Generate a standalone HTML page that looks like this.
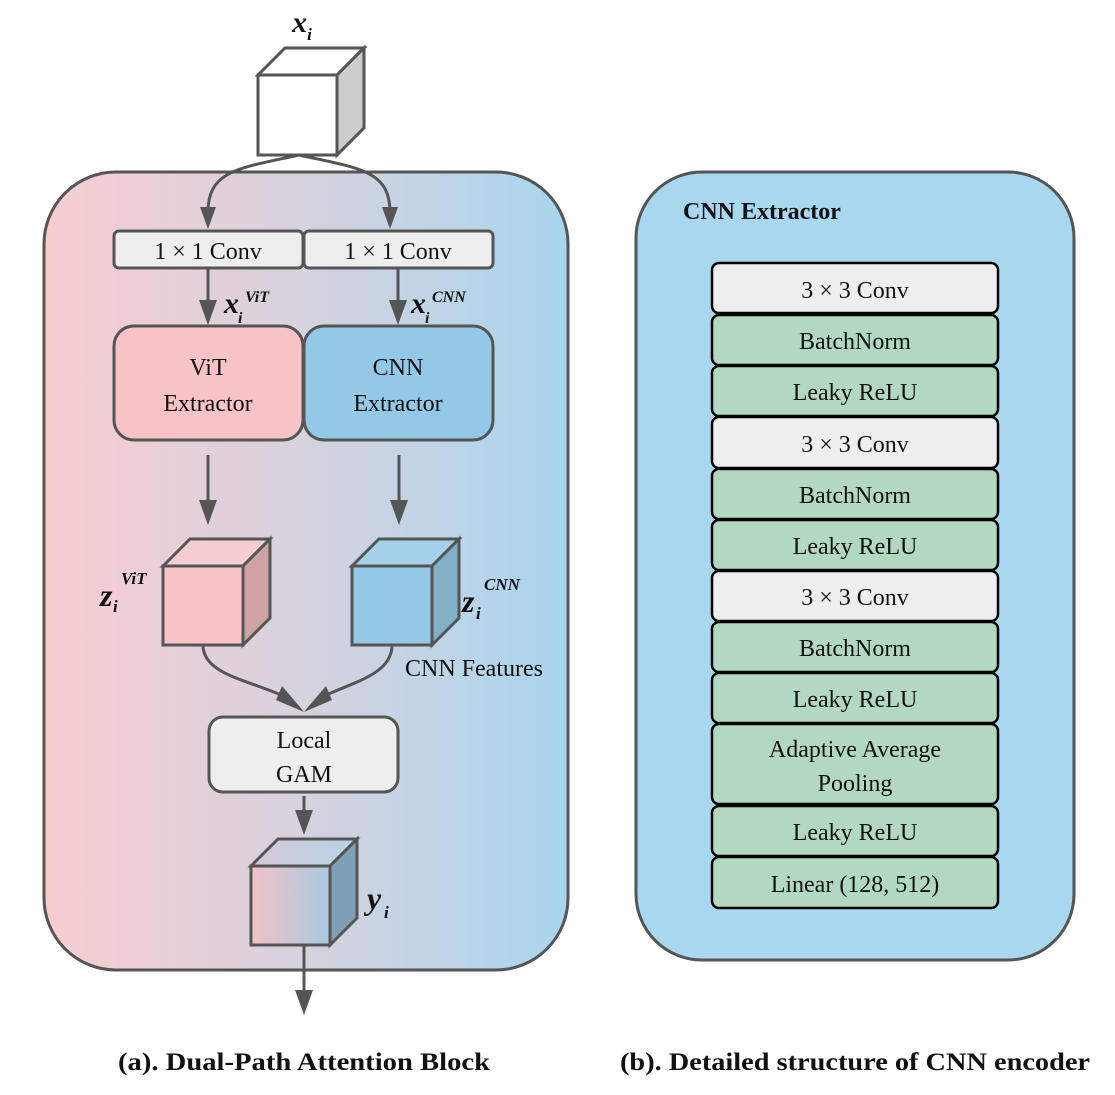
<!DOCTYPE html>
<html><head><meta charset="utf-8"><style>
html,body{margin:0;padding:0;background:#fff;}
svg text{font-family:"Liberation Serif","Times New Roman","DejaVu Serif",serif;}
</style></head><body>
<svg width="1115" height="1090" viewBox="0 0 1115 1090" xmlns="http://www.w3.org/2000/svg">
<defs>
<linearGradient id="bg" x1="0" x2="1" y1="0" y2="0"><stop offset="0" stop-color="#f8cdd0"/><stop offset="0.5" stop-color="#d6d2de"/><stop offset="1" stop-color="#a8d5ee"/></linearGradient>
<linearGradient id="yf" x1="0" x2="1"><stop offset="0" stop-color="#f2c2c8"/><stop offset="1" stop-color="#a9c9e0"/></linearGradient>
<linearGradient id="yt" x1="0" x2="1"><stop offset="0" stop-color="#d8c8d6"/><stop offset="1" stop-color="#b4d6ea"/></linearGradient>
</defs>
<style>
.s{stroke:#555;stroke-width:3;}
.t{font-size:24px;fill:#111;text-anchor:middle;}
.m{font-style:italic;font-weight:bold;fill:#111;}
.l{stroke:#000;stroke-width:2.5;}
</style>
<rect x="44" y="172" width="524" height="798" rx="72" fill="url(#bg)" class="s"/>
<rect x="258" y="75" width="79" height="80" fill="#fff" class="s"/>
<path d="M258,75 L285,48 L364,48 L337,75 Z" fill="#fff" class="s"/>
<path d="M337,75 L364,48 L364,128 L337,155 Z" fill="#ccc" class="s"/>
<text x="302" y="32" class="m" font-size="30" text-anchor="middle">x<tspan font-size="17" dy="8">i</tspan></text>
<g fill="none" stroke="#555" stroke-width="3">
<path d="M299,155 C240,168 208,170 208,212"/>
<path d="M299,155 C358,168 390,170 390,212"/>
</g>
<path d="M200,207 L216,207 L208,229 Z" fill="#555"/>
<path d="M382,207 L398,207 L390,229 Z" fill="#555"/>
<rect x="114" y="231" width="189" height="37" rx="5" fill="#eee" class="s"/>
<rect x="304" y="231" width="189" height="37" rx="5" fill="#eee" class="s"/>
<text x="208" y="259" class="t">1 × 1 Conv</text>
<text x="398" y="259" class="t">1 × 1 Conv</text>
<line x1="208" y1="268" x2="208" y2="305" class="s"/>
<path d="M199,300 L217,300 L208,325 Z" fill="#555"/>
<line x1="398" y1="268" x2="398" y2="305" class="s"/>
<path d="M389,300 L407,300 L398,325 Z" fill="#555"/>
<text x="224" y="313" class="m" font-size="30">x</text><text x="238" y="323" class="m" font-size="16">i</text><text x="245" y="302" class="m" font-size="16">ViT</text>
<text x="411" y="313" class="m" font-size="30">x</text><text x="425" y="323" class="m" font-size="16">i</text><text x="432" y="302" class="m" font-size="16">CNN</text>
<rect x="114" y="326" width="189" height="114" rx="20" fill="#f8c3c6" class="s"/>
<rect x="304" y="326" width="189" height="114" rx="20" fill="#93c8e6" class="s"/>
<text x="208" y="375" class="t">ViT</text><text x="208" y="411" class="t">Extractor</text>
<text x="398" y="375" class="t">CNN</text><text x="398" y="411" class="t">Extractor</text>
<line x1="208" y1="455" x2="208" y2="505" class="s"/>
<path d="M199,500 L217,500 L208,525 Z" fill="#555"/>
<line x1="399" y1="455" x2="399" y2="505" class="s"/>
<path d="M390,500 L408,500 L399,525 Z" fill="#555"/>
<rect x="163" y="566" width="80" height="79" fill="#f8c3c6" class="s"/>
<path d="M163,566 L190,539 L270,539 L243,566 Z" fill="#f6cdd0" class="s"/>
<path d="M243,566 L270,539 L270,618 L243,645 Z" fill="#cfa3a6" class="s"/>
<rect x="352" y="566" width="80" height="79" fill="#93c8e6" class="s"/>
<path d="M352,566 L379,539 L459,539 L432,566 Z" fill="#a5d2ea" class="s"/>
<path d="M432,566 L459,539 L459,618 L432,645 Z" fill="#82b0c8" class="s"/>
<text x="100" y="606" class="m" font-size="32">z</text><text x="113" y="612" class="m" font-size="17">i</text><text x="121" y="584" class="m" font-size="17">ViT</text>
<text x="462" y="612" class="m" font-size="32">z</text><text x="476" y="619" class="m" font-size="17">i</text><text x="484" y="590" class="m" font-size="17">CNN</text>
<text x="474" y="676" class="t">CNN Features</text>
<g fill="none" stroke="#555" stroke-width="3">
<path d="M203,645 C203,675 250,680 288,698"/>
<path d="M392,645 C392,675 352,682 320,698"/>
</g>
<path d="M282,686 L300,707 L304,712 L276,700 Z" fill="#555"/>
<path d="M326,686 L308,707 L304,712 L332,700 Z" fill="#555"/>
<rect x="209" y="717" width="189" height="75" rx="14" fill="#eee" class="s"/>
<text x="304" y="748" class="t">Local</text><text x="304" y="782" class="t">GAM</text>
<line x1="304" y1="796" x2="304" y2="815" class="s"/>
<path d="M295,810 L313,810 L304,835 Z" fill="#555"/>
<rect x="251" y="866" width="79" height="79" fill="url(#yf)" class="s"/>
<path d="M251,866 L278,839 L357,839 L330,866 Z" fill="url(#yt)" class="s"/>
<path d="M330,866 L357,839 L357,918 L330,945 Z" fill="#7fa0b4" class="s"/>
<text x="367" y="909" class="m" font-size="32">y</text><text x="384" y="918" class="m" font-size="17">i</text>
<line x1="304" y1="945" x2="304" y2="995" class="s"/>
<path d="M295,990 L313,990 L304,1015 Z" fill="#555"/>
<rect x="636" y="172" width="438" height="788" rx="66" fill="#a8d7ef" class="s"/>
<text x="683" y="219" font-size="24" font-weight="bold" fill="#111">CNN Extractor</text>
<g>
<rect x="712" y="263" width="286" height="50" rx="7" fill="#eee" class="l"/><text x="855" y="298" class="t">3 × 3 Conv</text>
<rect x="712" y="315" width="286" height="50" rx="7" fill="#b2d8c2" class="l"/><text x="855" y="349" class="t">BatchNorm</text>
<rect x="712" y="366" width="286" height="50" rx="7" fill="#b2d8c2" class="l"/><text x="855" y="400" class="t">Leaky ReLU</text>
<rect x="712" y="417" width="286" height="51" rx="7" fill="#eee" class="l"/><text x="855" y="452" class="t">3 × 3 Conv</text>
<rect x="712" y="469" width="286" height="50" rx="7" fill="#b2d8c2" class="l"/><text x="855" y="503" class="t">BatchNorm</text>
<rect x="712" y="520" width="286" height="50" rx="7" fill="#b2d8c2" class="l"/><text x="855" y="554" class="t">Leaky ReLU</text>
<rect x="712" y="571" width="286" height="50" rx="7" fill="#eee" class="l"/><text x="855" y="605" class="t">3 × 3 Conv</text>
<rect x="712" y="622" width="286" height="50" rx="7" fill="#b2d8c2" class="l"/><text x="855" y="656" class="t">BatchNorm</text>
<rect x="712" y="673" width="286" height="50" rx="7" fill="#b2d8c2" class="l"/><text x="855" y="707" class="t">Leaky ReLU</text>
<rect x="712" y="724" width="286" height="80" rx="7" fill="#b2d8c2" class="l"/><text x="855" y="757" class="t">Adaptive Average</text><text x="855" y="791" class="t">Pooling</text>
<rect x="712" y="806" width="286" height="50" rx="7" fill="#b2d8c2" class="l"/><text x="855" y="840" class="t">Leaky ReLU</text>
<rect x="712" y="857" width="286" height="51" rx="7" fill="#b2d8c2" class="l"/><text x="855" y="892" class="t">Linear (128, 512)</text>
</g>
<text x="118" y="1070" font-size="25" font-weight="bold" fill="#111" textLength="372" lengthAdjust="spacingAndGlyphs">(a). Dual-Path Attention Block</text>
<text x="620" y="1070" font-size="25" font-weight="bold" fill="#111" textLength="470" lengthAdjust="spacingAndGlyphs">(b). Detailed structure of CNN encoder</text>
</svg>
</body></html>
